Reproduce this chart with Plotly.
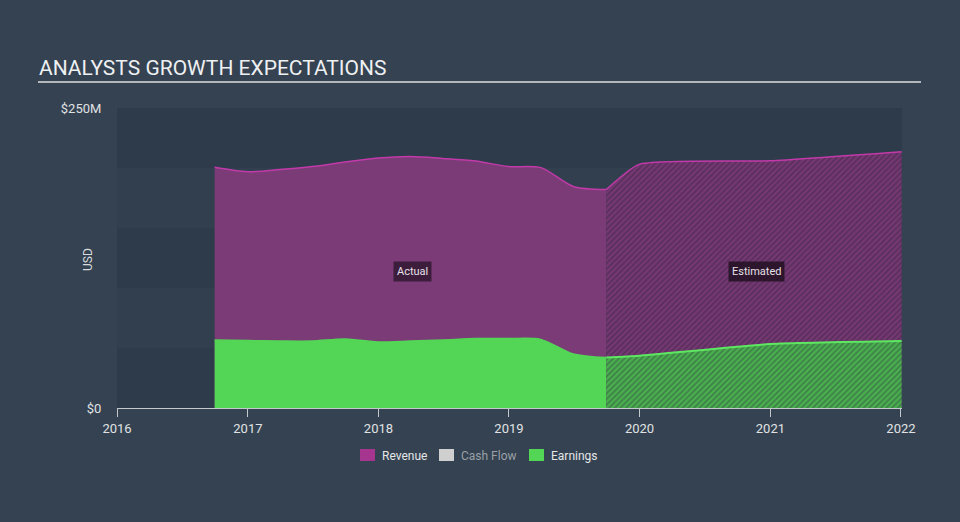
import plotly.graph_objects as go

# ---------------- data ----------------
actual_dates = ["2016-09-30", "2016-12-31", "2017-03-31", "2017-06-30", "2017-09-30",
                "2017-12-31", "2018-03-31", "2018-06-30", "2018-09-30", "2018-12-31",
                "2019-03-31", "2019-06-30", "2019-09-30"]
revenue_actual = [200.6, 196.9, 198.7, 201.2, 205.0, 208.3, 209.6, 208.0, 205.8, 201.2,
                  200.3, 184.6, 182.0]
earnings_actual = [56.7, 56.2, 55.8, 55.8, 57.5, 55.0, 55.8, 56.7, 57.9, 57.9,
                   57.2, 45.0, 42.0]

est_dates = ["2019-09-30", "2019-12-31", "2020-12-31", "2022-01-03"]
revenue_est = [182.0, 203.0, 206.0, 213.6]
earnings_est = [42.0, 43.5, 53.3, 55.8]

year_ticks = ["2016-01-01", "2017-01-01", "2018-01-01", "2019-01-01",
              "2020-01-01", "2021-01-01", "2022-01-01"]
y_ticks = [0, 250]
y_tick_labels = ["$0", "$250M"]
legend_names = ["Revenue", "Cash Flow", "Earnings"]

# ---------------- styles ----------------
PAGE_BG = "#344251"
BAND_DARK = "#2e3b4a"
BAND_LIGHT = "#323f4e"
REV_FILL = "#7b3b77"
REV_LINE = "#c23aa9"
EARN_FILL = "#53d655"
EARN_LINE = "#5ee861"
FONT = "Roboto"

fig = go.Figure()

fig.add_trace(go.Scatter(
    x=actual_dates, y=revenue_actual, mode="lines", fill="tozeroy",
    fillcolor=REV_FILL, line=dict(color=REV_LINE, width=1.5, shape="spline", smoothing=0.8),
    showlegend=False, hoverinfo="skip"))
fig.add_trace(go.Scatter(
    x=est_dates, y=revenue_est, mode="lines", fill="tozeroy",
    fillcolor=REV_FILL,
    fillpattern=dict(shape="/", bgcolor="#763873", fgcolor="#3a2644", size=4, solidity=0.45),
    line=dict(color=REV_LINE, width=1.5, shape="spline", smoothing=0.5),
    showlegend=False, hoverinfo="skip"))
fig.add_trace(go.Scatter(
    x=actual_dates, y=earnings_actual, mode="lines", fill="tozeroy",
    fillcolor=EARN_FILL, line=dict(color=EARN_FILL, width=1.5, shape="spline", smoothing=0.8),
    showlegend=False, hoverinfo="skip"))
fig.add_trace(go.Scatter(
    x=est_dates, y=earnings_est, mode="lines", fill="tozeroy",
    fillcolor=EARN_FILL,
    fillpattern=dict(shape="/", bgcolor="#4cb24f", fgcolor="#2f5542", size=4, solidity=0.5),
    line=dict(color=EARN_LINE, width=2, shape="spline", smoothing=0.5),
    showlegend=False, hoverinfo="skip"))

# plot geometry in pixels (for paper-coordinate helpers)
L, R, T, B = 117, 902, 108, 408
W, H = R - L, B - T


def px_x(x):
    return (x - L) / W


def px_y(y):
    return (B - y) / H


shapes = []
# background bands
for i, (y0, y1) in enumerate([(0, 50), (50, 100), (100, 150), (150, 200), (200, 250)]):
    shapes.append(dict(type="rect", xref="paper", yref="y", x0=0, x1=1, y0=y0, y1=y1,
                       fillcolor=BAND_DARK if i % 2 == 0 else BAND_LIGHT,
                       line=dict(width=0), layer="below"))
# title underline
shapes.append(dict(type="line", xref="paper", yref="paper",
                   x0=px_x(38), x1=px_x(921), y0=px_y(82), y1=px_y(82),
                   line=dict(color="#b4b8bd", width=2)))

annotations = [
    dict(text="ANALYSTS GROWTH EXPECTATIONS", xref="paper", yref="paper",
         x=px_x(37), y=px_y(68), xanchor="left", yanchor="middle", showarrow=False,
         font=dict(family=FONT, size=21, color="#eef0f2")),
    dict(text="USD", xref="paper", yref="paper", x=px_x(88), y=px_y(260),
         textangle=-90, showarrow=False, xanchor="center", yanchor="middle",
         font=dict(family=FONT, size=12, color="#d8dadd")),
    dict(text="Actual", xref="paper", yref="paper", x=px_x(412), y=px_y(271),
         xanchor="center", yanchor="middle",
         showarrow=False, bgcolor="rgba(40,20,40,0.75)", borderpad=3,
         font=dict(family=FONT, size=11, color="#e8e0e8")),
    dict(text="Estimated", xref="paper", yref="paper", x=px_x(756), y=px_y(271),
         xanchor="center", yanchor="middle",
         showarrow=False, bgcolor="rgba(30,15,30,0.8)", borderpad=3,
         font=dict(family=FONT, size=11, color="#e8e0e8")),
]

# custom legend
legend_swatch_x = [360, 439, 529]
legend_colors = ["#a5358f", "#cfcfcf", "#53d655"]
legend_text_colors = ["#e4e6e8", "#9aa0a6", "#e4e6e8"]
for name, sx, col, tcol in zip(legend_names, legend_swatch_x, legend_colors, legend_text_colors):
    shapes.append(dict(type="rect", xref="paper", yref="paper",
                       x0=px_x(sx), x1=px_x(sx + 15), y0=px_y(461), y1=px_y(449),
                       fillcolor=col, line=dict(width=0)))
    annotations.append(dict(text=name, xref="paper", yref="paper",
                            x=px_x(sx + 20), y=px_y(456), xanchor="left", yanchor="middle",
                            showarrow=False,
                            font=dict(family=FONT, size=12, color=tcol)))

fig.update_layout(
    width=960, height=522,
    margin=dict(l=L, r=960 - R, t=T, b=522 - B),
    paper_bgcolor=PAGE_BG, plot_bgcolor=BAND_LIGHT,
    showlegend=False,
    shapes=shapes, annotations=annotations,
    font=dict(family=FONT, color="#d8dadd"),
)
fig.update_xaxes(
    type="date", range=["2016-01-01", "2022-01-04"],
    tickvals=year_ticks, tickformat="%Y",
    showgrid=False, zeroline=False,
    showline=True, linecolor="#c4c8cc", linewidth=1,
    ticks="outside", ticklen=8, tickcolor="#c4c8cc", tickwidth=1,
    tickfont=dict(family=FONT, size=13, color="#e0e2e4"),
)
fig.update_yaxes(
    range=[0, 250], tickvals=y_ticks, ticktext=y_tick_labels,
    showgrid=False, zeroline=False, showline=False,
    ticks="outside", ticklen=12, tickcolor="rgba(0,0,0,0)",
    tickfont=dict(family=FONT, size=13, color="#e0e2e4"),
)

fig.write_html("out.html")
